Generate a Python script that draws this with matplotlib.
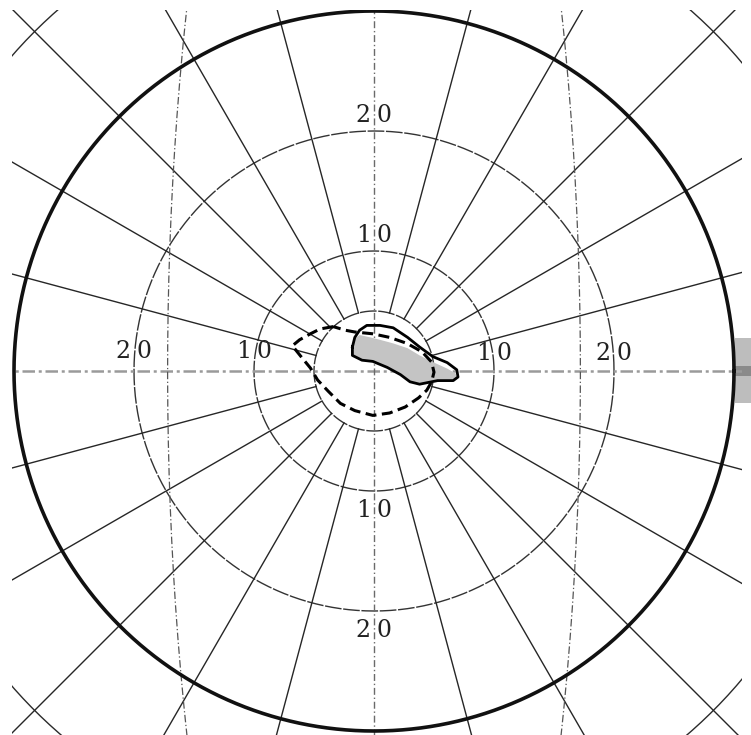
import numpy as np
import matplotlib.pyplot as plt
from matplotlib.patches import Rectangle

# visual field chart, positions in degrees (x = horizontal, y = vertical)
ring_labels = [10, 20]
meridian_step = 15
blind_meridians = [-17.2, 17.2]

# inner isopter (grey area)
inner_x = [-1.8, -1.6, -1.2, -0.3, 0.5, 1.6, 2.8, 3.8, 4.9, 6.1, 6.8, 6.9, 6.6,
           5.3, 3.8, 3.0, 2.2, 1.1, -0.1, -1.0, -1.8]
inner_y = [2.0, 2.7, 3.0, 2.8, 2.6, 2.3, 1.9, 1.3, 0.75, 0.2, -0.2, -0.5, -0.8,
           -0.8, -1.1, -0.9, -0.3, 0.3, 0.8, 0.9, 1.3]

# solid isopter
solid_x = [-1.8, -1.6, -1.2, -0.6, 0.5, 1.6, 2.8, 3.8, 4.9, 6.1, 6.9, 7.0, 6.6,
           5.3, 3.8, 3.0, 2.2, 1.1, -0.1, -1.0, -1.8]
solid_y = [2.0, 2.8, 3.4, 3.8, 3.8, 3.6, 2.8, 2.0, 1.2, 0.7, 0.1, -0.5, -0.8,
           -0.8, -1.1, -0.9, -0.3, 0.3, 0.8, 0.9, 1.3]

# dashed isopter
dash_x = [-3.4, -4.5, -5.3, -6.2, -6.8, -6.0, -5.3, -4.7, -3.8, -2.8, -1.6, -0.1,
          1.3, 2.6, 3.7, 4.4, 4.8, 5.0, 4.8, 4.0, 2.75, 1.3, -0.1, -1.6, -2.4]
dash_y = [3.7, 3.5, 3.1, 2.6, 2.1, 1.1, 0.25, -0.75, -1.7, -2.7, -3.3, -3.7,
          -3.5, -3.0, -2.25, -1.6, -0.9, -0.1, 0.75, 1.6, 2.3, 2.8, 3.1, 3.25, 3.4]

fig = plt.figure(figsize=(7.51, 7.35), dpi=100)
ax = fig.add_axes([0, 0, 1, 1])
ax.set_xlim(-374 / 12, 377 / 12)
ax.set_ylim(-364 / 12, 371 / 12)
ax.set_aspect("equal")
ax.axis("off")

# printed area of the sheet (white margin left and top)
sheet = Rectangle((-362 / 12, -31), 368 / 12 + 362 / 12, 31 + 361 / 12,
                  transform=ax.transData, fill=False, lw=0)
ax.add_patch(sheet)


def grid_line(x, y, **kw):
    ln, = ax.plot(x, y, **kw)
    ln.set_clip_path(sheet)


t = np.linspace(0, 2 * np.pi, 721)

# rings
for r in [5] + ring_labels:
    grid_line(r * np.cos(t), r * np.sin(t), color="#333333", lw=1.0,
              ls=(0, (12, 1.2)), zorder=1)
grid_line(40 * np.cos(t), 40 * np.sin(t), color="#2a2a2a", lw=1.0, zorder=1)
grid_line(30 * np.cos(t), 30 * np.sin(t), color="#111111", lw=2.6, zorder=2)

# meridians
for a in range(meridian_step, 360, meridian_step):
    if a % 90 == 0:
        continue
    ar = np.radians(a)
    grid_line([5 * np.cos(ar), 50 * np.cos(ar)], [5 * np.sin(ar), 50 * np.sin(ar)],
              color="#262626", lw=1.0, zorder=1)

# main axes
grid_line([-40, 40], [0, 0], color="#9a9a9a", lw=1.8,
          ls=(0, (5, 1.5, 1.2, 1.5)), zorder=1)
grid_line([0, 0], [-40, 40], color="#6a6a6a", lw=1.0,
          ls=(0, (5, 2, 1, 2)), zorder=1)

# great circles through the vertical poles
s = np.radians(np.linspace(-89, 89, 200))
for al in blind_meridians:
    alr = np.radians(al)
    vx = np.sin(alr) * np.cos(s)
    vy = np.sin(s)
    vz = np.cos(alr) * np.cos(s)
    th = np.degrees(np.arccos(vz))
    ph = np.arctan2(vy, vx)
    grid_line(th * np.cos(ph), th * np.sin(ph), color="#555555", lw=0.9,
              ls=(0, (6, 2, 1, 2)), zorder=1)

# ring labels
lab = dict(fontsize=17, family="DejaVu Serif", color="#222222", zorder=6,
           va="center")
for r in ring_labels:
    d = str(r)
    for px, py in [(0, r + 1.3), (0, -r - 1.65), (-r, 1.6), (r, 1.5)]:
        ax.text(px - 0.25, py, d[0], ha="right", **lab)
        ax.text(px + 0.25, py, d[1], ha="left", **lab)

# isopters
ax.fill(inner_x, inner_y, color="#c4c4c4", lw=0, zorder=3)
ax.plot(solid_x + solid_x[:1], solid_y + solid_y[:1], color="black", lw=2.0,
        zorder=4, solid_joinstyle="round")
ax.plot(dash_x + dash_x[:1], dash_y + dash_y[:1], color="black", lw=2.2,
        ls=(0, (3.6, 1.8)), zorder=5)

# scan edge
ax.fill_between([30.1, 31.5], -2.7, 2.75, color="#bdbdbd", lw=0, zorder=0)
ax.fill_between([30.1, 31.5], -0.4, 0.4, color="#8a8a8a", lw=0, zorder=0)

fig.savefig("out.png", dpi=100)
